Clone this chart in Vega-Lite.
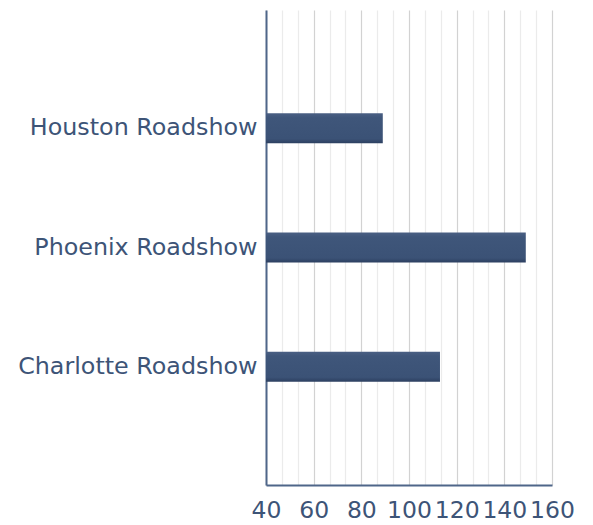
{
  "$schema": "https://vega.github.io/schema/vega-lite/v6.json",
  "width": 286,
  "height": 475,
  "autosize": "none",
  "padding": {"left": 266, "top": 10, "right": 41, "bottom": 40},
  "background": "white",
  "data": {
    "values": [
      {"event": "Houston Roadshow", "value": 89},
      {"event": "Phoenix Roadshow", "value": 149},
      {"event": "Charlotte Roadshow", "value": 113}
    ]
  },
  "mark": {
    "type": "bar",
    "color": {
      "gradient": "linear",
      "x1": 0, "y1": 0, "x2": 0, "y2": 1,
      "stops": [
        {"offset": 0, "color": "#4a5f83"},
        {"offset": 0.15, "color": "#3f567a"},
        {"offset": 0.85, "color": "#3b5276"},
        {"offset": 1, "color": "#2c3f60"}
      ]
    }
  },
  "encoding": {
    "y": {
      "field": "event",
      "type": "nominal",
      "sort": ["Houston Roadshow", "Phoenix Roadshow", "Charlotte Roadshow"],
      "scale": {"paddingInner": 0.748, "paddingOuter": 0.866},
      "axis": {
        "title": null,
        "ticks": false,
        "grid": false,
        "labelFont": "DejaVu Sans",
        "labelFontSize": 23.8,
        "labelColor": "#3d5477",
        "labelPadding": 9,
        "labelLimit": 0,
        "domainColor": "#4f6689",
        "domainWidth": 2
      }
    },
    "x": {
      "field": "value",
      "type": "quantitative",
      "scale": {"domain": [40, 160], "zero": false, "nice": false},
      "axis": {
        "title": null,
        "values": [40, 46.667, 53.333, 60, 66.667, 73.333, 80, 86.667, 93.333, 100, 106.667, 113.333, 120, 126.667, 133.333, 140, 146.667, 153.333, 160],
        "labelExpr": "datum.value % 20 == 0 ? datum.label : ''",
        "ticks": false,
        "grid": true,
        "gridColor": {"condition": {"test": "datum.value % 20 == 0", "value": "#d2d2d2"}, "value": "#ebebeb"},
        "gridWidth": 1.2,
        "labelFont": "DejaVu Sans",
        "labelFontSize": 23.5,
        "labelColor": "#3d5477",
        "labelPadding": 13,
        "labelOverlap": false,
        "labelFlush": false,
        "domainColor": "#4f6689",
        "domainWidth": 2
      }
    },
    "x2": {"datum": 40}
  },
  "config": {"view": {"stroke": null}}
}
